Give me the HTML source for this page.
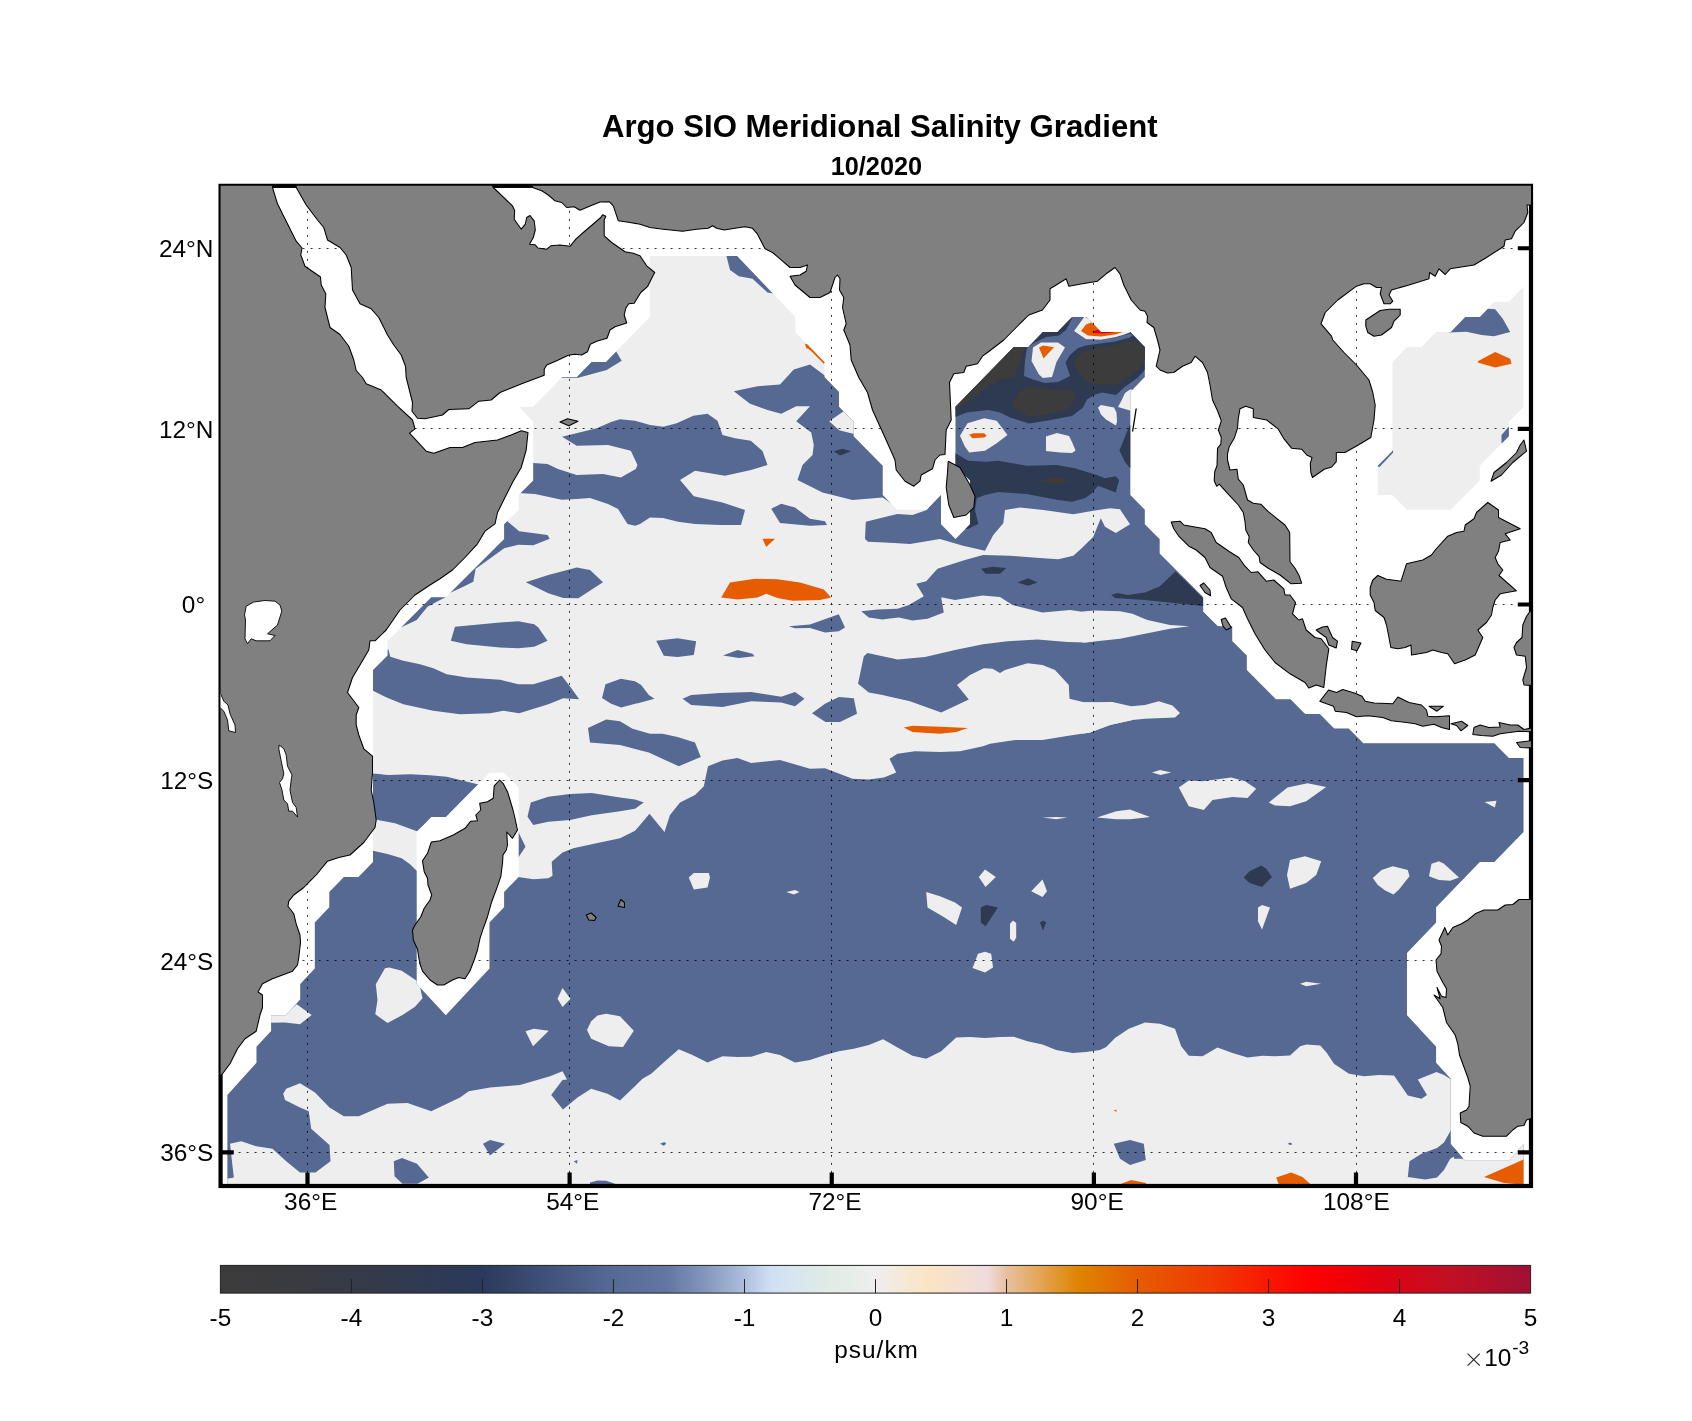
<!DOCTYPE html><html><head><meta charset="utf-8"><title>Argo SIO Meridional Salinity Gradient</title>
<style>html,body{margin:0;padding:0;background:#fff}body{width:1692px;height:1421px;overflow:hidden;position:relative;font-family:"Liberation Sans",sans-serif}svg{position:absolute;left:0;top:0;will-change:transform}text{font-family:"Liberation Sans",sans-serif;fill:#000}</style></head><body>
<svg width="1692" height="1421" viewBox="0 0 1692 1421">
<defs>
<clipPath id="ax"><rect x="220.57" y="185.85" width="1310.42" height="1000.13"/></clipPath>
<clipPath id="dat"><path clip-rule="evenodd" d="M649.7 256.0 L737.1 256.0 L795.3 317.0 L795.3 332.0 L824.5 362.1 L824.5 377.0 L839.0 391.9 L839.0 406.7 L853.6 421.5 L853.6 436.3 L882.7 465.7 L882.7 495.1 L897.3 509.7 L926.4 509.7 L941.0 495.1 L941.0 524.3 L955.5 538.9 L970.1 524.3 L970.1 480.4 L955.5 465.7 L955.5 406.7 L1013.8 347.1 L1028.3 347.1 L1042.9 332.0 L1057.5 332.0 L1072.0 317.0 L1086.6 317.0 L1101.2 332.0 L1130.3 332.0 L1144.8 347.1 L1144.8 377.0 L1130.3 391.9 L1130.3 495.1 L1144.8 509.7 L1144.8 524.3 L1159.4 538.9 L1159.4 553.5 L1203.1 597.2 L1203.1 611.8 L1217.7 626.3 L1232.2 626.3 L1232.2 640.9 L1246.8 655.5 L1246.8 670.1 L1275.9 699.3 L1290.5 699.3 L1305.0 713.9 L1319.6 713.9 L1334.2 728.6 L1348.7 728.6 L1363.3 743.3 L1494.3 743.3 L1508.9 758.0 L1523.5 758.0 L1523.5 832.0 L1494.3 861.9 L1479.8 861.9 L1436.1 907.2 L1436.1 922.4 L1407.0 953.0 L1407.0 1015.2 L1436.1 1046.8 L1436.1 1062.7 L1450.7 1078.8 L1450.7 1144.0 L1465.2 1160.7 L1508.9 1160.7 L1523.5 1144.0 L1523.5 1202.8 L227.4 1202.8 L227.4 1094.9 L256.5 1062.7 L256.5 1046.8 L271.1 1030.9 L271.1 1015.2 L285.7 1015.2 L300.2 999.5 L300.2 983.9 L314.8 968.5 L314.8 922.4 L329.3 907.2 L329.3 892.0 L343.9 877.0 L358.5 877.0 L373.0 861.9 L373.0 670.1 L387.6 655.5 L387.6 640.9 L431.3 597.2 L445.8 597.2 L504.1 538.9 L504.1 524.3 L518.7 509.7 L518.7 495.1 L533.2 480.4 L533.2 421.5 L518.7 406.7 L533.2 406.7 L562.3 377.0 L576.9 377.0 L591.5 362.1 L606.0 362.1 L649.7 317.0Z M416.7 983.9 L416.7 832.0 L431.3 817.1 L445.8 817.1 L489.5 772.7 L504.1 772.7 L518.7 787.5 L518.7 877.0 L504.1 892.0 L504.1 907.2 L489.5 922.4 L489.5 968.5 L445.8 1015.2Z M1523.5 286.6 L1523.5 406.7 L1508.9 421.5 L1508.9 436.3 L1479.8 465.7 L1479.8 480.4 L1450.7 509.7 L1407.0 509.7 L1392.4 495.1 L1377.8 495.1 L1377.8 465.7 L1392.4 451.0 L1392.4 362.1 L1407.0 347.1 L1421.5 347.1 L1436.1 332.0 L1450.7 332.0 L1465.2 317.0 L1479.8 317.0 L1494.3 301.8 L1508.9 301.8Z"/></clipPath>
<linearGradient id="cb" x1="0" x2="1" y1="0" y2="0"><stop offset="0.000" stop-color="#3c3c3c"/><stop offset="0.060" stop-color="#3a3b40"/><stop offset="0.170" stop-color="#2e3a54"/><stop offset="0.200" stop-color="#2a3a5c"/><stop offset="0.300" stop-color="#566a96"/><stop offset="0.340" stop-color="#6176a0"/><stop offset="0.370" stop-color="#8496bc"/><stop offset="0.400" stop-color="#adbfdc"/><stop offset="0.420" stop-color="#cfe0f5"/><stop offset="0.440" stop-color="#d8e6ee"/><stop offset="0.465" stop-color="#e0ece4"/><stop offset="0.500" stop-color="#eeeeee"/><stop offset="0.540" stop-color="#fbe4c3"/><stop offset="0.585" stop-color="#efdcdc"/><stop offset="0.600" stop-color="#e8c0a0"/><stop offset="0.655" stop-color="#de8500"/><stop offset="0.700" stop-color="#e65c00"/><stop offset="0.760" stop-color="#f03800"/><stop offset="0.830" stop-color="#ff0000"/><stop offset="0.880" stop-color="#e4000f"/><stop offset="0.940" stop-color="#c01024"/><stop offset="1.000" stop-color="#a11033"/></linearGradient>
</defs>
<g clip-path="url(#ax)">
<g clip-path="url(#dat)" shape-rendering="geometricPrecision">
<rect x="220.6" y="185.8" width="1310.4" height="1000.1" fill="#eeeeee"/>
<path d="M865.8 521.7 L897.5 514.0 L912.5 515.0 L926.7 510.0 L940.0 495.0 L940.0 300.0 L1350.0 300.0 L1350.0 720.0 L1093.0 720.0 L1093.3 536.7 L1100.8 518.3 L1105.0 526.7 L1115.8 533.0 L1130.0 524.2 L1120.0 509.2 L1110.0 508.3 L1093.3 510.8 L1073.3 514.2 L1043.3 510.0 L1020.0 507.5 L1005.0 510.0 L1003.3 523.3 L993.3 535.0 L985.0 550.8 L963.0 545.8 L940.0 539.0 L910.0 544.0 L885.0 542.5 L868.0 541.7 L865.0 539.0Z" fill="#556993"/>
<path d="M861.2 611.2 L877.5 609.5 L897.5 608.8 L908.8 605.0 L923.8 596.2 L916.2 583.8 L926.2 581.2 L937.5 568.8 L965.0 560.0 L983.0 555.0 L1010.0 555.8 L1043.3 558.3 L1058.3 559.2 L1073.3 555.8 L1081.7 548.3 L1093.3 536.7 L1220.0 537.0 L1220.0 626.2 L1189.5 626.2 L1170.0 625.0 L1147.5 620.0 L1132.5 613.8 L1120.0 611.2 L1095.0 610.5 L1087.5 612.5 L1070.0 610.0 L1042.5 612.5 L1012.5 605.0 L1000.0 597.0 L982.5 595.5 L955.0 600.0 L942.5 597.5 L941.2 597.5 L943.8 612.5 L927.5 618.8 L912.5 620.5 L898.8 617.5 L882.5 619.5 L868.8 617.5Z" fill="#556993"/>
<path d="M863.8 656.2 L867.5 653.0 L882.5 656.2 L897.5 659.5 L925.0 657.0 L955.0 650.0 L983.0 644.2 L1007.5 641.2 L1037.5 639.5 L1067.5 642.0 L1085.0 642.5 L1120.0 638.8 L1145.0 633.8 L1170.0 628.8 L1189.5 626.2 L1220.0 626.2 L1220.0 713.0 L1180.0 713.0 L1172.5 705.5 L1158.8 701.2 L1145.0 705.0 L1131.2 706.2 L1112.5 702.0 L1085.0 702.5 L1069.5 698.8 L1068.8 685.0 L1055.0 670.0 L1042.5 665.0 L1027.5 663.2 L1005.0 670.0 L1000.0 673.0 L992.5 668.8 L983.8 668.2 L970.0 675.0 L957.0 685.0 L968.8 699.5 L941.2 712.5 L910.0 701.2 L882.5 695.0 L868.8 692.5 L858.0 683.8Z" fill="#556993"/>
<path d="M200.0 850.8 L373.0 850.8 L373.0 850.8 L388.3 854.2 L401.7 858.3 L410.0 864.2 L416.7 870.8 L518.3 877.0 L533.3 879.2 L548.3 878.3 L552.5 875.8 L551.7 861.7 L562.5 852.5 L573.3 848.3 L591.7 844.2 L620.0 838.3 L635.0 830.8 L649.5 813.8 L664.5 832.0 L670.0 815.0 L680.0 802.5 L695.0 795.0 L703.8 786.2 L708.0 766.2 L722.5 760.5 L737.5 758.0 L751.2 763.0 L780.0 760.0 L810.0 768.8 L825.0 768.2 L852.5 778.8 L868.8 779.5 L883.8 777.5 L896.2 772.5 L889.5 758.8 L897.5 753.8 L915.0 751.2 L940.0 752.0 L960.0 751.2 L983.0 746.2 L990.0 743.8 L1015.0 740.0 L1042.5 740.0 L1070.0 735.5 L1090.0 732.5 L1110.0 725.0 L1132.5 720.0 L1145.0 718.8 L1175.0 717.5 L1180.0 713.0 L1220.0 713.0 L1600.0 713.0 L1600.0 1200.0 L200.0 1200.0Z" fill="#556993"/>
<path d="M1082.5 611.5 L1095.0 610.5 L1120.0 611.2 L1132.5 613.8 L1147.5 620.0 L1170.0 625.0 L1189.5 626.2 L1170.0 628.8 L1145.0 633.8 L1120.0 638.8 L1085.0 642.5 L1082.5 642.5Z" fill="#eeeeee"/>
<path d="M1082.5 702.2 L1112.5 702.0 L1131.2 706.2 L1145.0 705.0 L1158.8 701.2 L1172.5 705.5 L1180.0 713.0 L1175.0 717.5 L1145.0 718.8 L1132.5 720.0 L1110.0 725.0 L1090.0 732.5 L1082.5 733.8Z" fill="#eeeeee"/>
<path d="M230.0 1143.8 L241.2 1141.2 L256.2 1146.2 L272.5 1148.8 L286.2 1161.2 L300.0 1172.5 L315.5 1172.5 L330.5 1161.2 L329.5 1145.0 L311.2 1128.8 L308.8 1111.2 L300.0 1107.5 L285.0 1100.0 L283.2 1093.8 L286.2 1088.8 L300.0 1083.2 L315.0 1092.5 L329.5 1107.5 L343.8 1116.2 L358.8 1116.2 L387.5 1103.8 L407.5 1103.0 L431.2 1111.2 L460.0 1097.5 L468.8 1091.2 L490.0 1087.5 L520.0 1085.0 L550.0 1076.2 L562.5 1071.2 L567.0 1079.5 L562.5 1080.0 L551.2 1095.0 L563.0 1109.5 L577.5 1097.5 L591.2 1088.8 L607.5 1093.8 L620.0 1100.5 L642.5 1078.8 L651.2 1073.8 L665.0 1061.2 L678.8 1049.2 L692.5 1055.0 L707.5 1062.5 L722.5 1056.2 L737.5 1057.0 L751.2 1056.8 L766.2 1052.0 L780.0 1055.0 L795.0 1062.5 L810.0 1060.0 L825.0 1055.0 L838.8 1051.2 L853.8 1048.8 L868.8 1045.0 L883.0 1039.2 L897.5 1047.5 L912.5 1055.8 L926.2 1058.8 L941.2 1051.2 L956.2 1037.5 L970.0 1037.0 L970.0 1037.0 L985.0 1038.0 L1000.0 1037.0 L1013.8 1036.8 L1027.5 1041.2 L1042.5 1044.5 L1056.2 1050.0 L1072.5 1053.0 L1086.2 1052.0 L1100.0 1050.0 L1106.2 1047.0 L1115.0 1038.0 L1128.8 1028.8 L1145.0 1022.5 L1160.0 1023.8 L1175.0 1028.8 L1181.2 1046.2 L1188.8 1055.8 L1202.5 1056.2 L1217.5 1047.5 L1232.5 1053.0 L1247.5 1057.5 L1262.5 1055.8 L1275.0 1056.2 L1290.0 1055.5 L1300.2 1046.2 L1306.5 1044.5 L1320.2 1045.5 L1326.5 1052.5 L1334.0 1063.8 L1349.0 1073.8 L1364.0 1076.2 L1379.0 1075.0 L1394.0 1075.5 L1407.8 1095.5 L1421.5 1098.8 L1427.0 1095.0 L1417.8 1079.5 L1429.0 1075.0 L1436.5 1072.0 L1444.0 1075.0 L1454.0 1081.2 L1454.0 1158.8 L1506.5 1158.8 L1529.0 1135.0 L1529.0 1210.0 L225.0 1210.0 L225.0 1179.2 L233.8 1177.5Z" fill="#eeeeee"/>
<path d="M560.0 376.7 L575.0 375.8 L590.0 360.8 L605.0 360.8 L615.8 350.8 L621.7 360.8 L606.7 370.0 L578.3 377.8 L560.0 377.8Z" fill="#556993"/>
<path d="M562.0 436.7 L596.7 428.3 L611.7 421.7 L620.0 419.2 L635.0 420.8 L650.0 425.0 L663.3 426.7 L676.7 423.3 L693.3 415.8 L707.5 413.8 L717.5 420.8 L722.5 435.0 L735.0 438.3 L750.8 440.8 L762.5 451.0 L767.5 465.0 L751.0 470.0 L725.0 475.8 L695.0 470.8 L680.0 480.0 L693.8 496.2 L722.5 502.5 L745.0 510.0 L741.0 525.0 L720.0 525.0 L695.0 524.0 L678.0 521.7 L663.0 518.0 L650.0 517.5 L640.0 524.0 L635.0 525.8 L627.5 524.0 L618.0 509.0 L608.0 504.0 L590.0 498.0 L576.7 499.0 L561.7 499.7 L535.0 494.0 L518.0 493.0 L518.0 462.0 L547.5 464.0 L558.0 469.0 L576.7 475.0 L603.0 474.0 L620.8 477.5 L635.8 469.0 L637.5 465.0 L630.8 450.8 L608.0 445.0 L576.7 445.8Z" fill="#556993"/>
<path d="M733.8 391.2 L757.5 386.2 L780.0 384.5 L793.8 369.5 L810.0 364.5 L827.5 377.5 L842.5 392.5 L842.5 405.0 L856.2 420.0 L856.2 435.0 L885.0 463.8 L885.0 496.2 L893.8 505.0 L882.5 497.5 L852.5 500.0 L822.5 492.5 L797.5 480.0 L802.5 465.0 L812.5 455.0 L813.8 445.0 L811.2 432.5 L796.2 421.2 L810.0 406.2 L796.2 406.2 L781.2 413.8 L767.5 410.0 L750.0 403.8Z" fill="#556993"/>
<path d="M843.7 411.3 L829.2 421.2 L839.2 430.3 L855.0 434.2 L855.0 422.5Z" fill="#eeeeee"/>
<path d="M833.8 451.2 L842.5 448.8 L851.2 451.2 L840.0 455.5Z" fill="#2e3a52"/>
<path d="M726.2 255.0 L738.8 255.0 L775.0 293.8 L767.5 292.5 L752.5 278.8 L738.8 276.2 L730.0 270.0Z" fill="#556993"/>
<path d="M805.0 343.8 L808.0 344.2 L825.5 362.5 L823.8 363.8 L810.0 350.0 L806.2 348.0Z" fill="#e65c00"/>
<path d="M771.2 508.8 L781.2 503.8 L795.0 507.5 L810.0 518.8 L825.0 521.2 L827.0 525.0 L810.0 525.8 L780.0 523.0Z" fill="#556993"/>
<path d="M370.0 773.3 L388.3 775.0 L410.0 774.2 L430.0 775.3 L446.7 776.7 L463.3 780.8 L477.5 784.2 L480.0 784.2 L445.8 818.3 L431.3 818.3 L417.0 831.3 L395.0 823.3 L376.7 819.7 L370.0 818.3Z" fill="#556993"/>
<path d="M527.5 816.7 L530.8 802.5 L548.3 796.7 L570.0 794.0 L591.7 793.0 L620.0 797.5 L635.0 799.5 L643.8 802.5 L635.0 808.8 L620.0 811.3 L591.7 815.3 L570.0 820.0 L548.3 821.7 L533.3 825.0Z" fill="#556993"/>
<path d="M516.7 831.7 L518.3 831.7 L525.5 846.7 L518.3 857.5 L516.7 857.5Z" fill="#556993"/>
<path d="M502.5 520.0 L506.7 520.8 L519.2 531.3 L547.5 535.0 L549.7 538.7 L533.3 545.3 L518.3 544.7 L504.2 548.3 L475.8 568.7 L474.2 566.7 L502.5 538.3Z" fill="#556993"/>
<path d="M475.8 568.3 L473.3 581.7 L463.3 586.7 L449.2 593.3 L445.8 595.8 L474.2 566.7Z" fill="#556993"/>
<path d="M430.0 596.3 L446.7 596.7 L440.0 600.0 L427.5 606.7 L416.7 620.0 L400.8 627.5 L398.3 626.7Z" fill="#556993"/>
<path d="M525.8 582.2 L548.3 575.0 L576.7 567.5 L590.0 570.0 L603.0 582.2 L578.3 598.3 L563.3 598.0 L548.3 593.3Z" fill="#556993"/>
<path d="M450.8 640.8 L455.0 626.7 L500.0 622.5 L518.3 621.2 L534.2 624.2 L538.3 627.5 L547.5 640.8 L534.2 646.7 L518.3 648.3 L500.0 647.5 L466.7 644.2Z" fill="#556993"/>
<path d="M385.0 650.8 L388.3 649.2 L390.3 656.7 L403.3 660.8 L420.0 664.2 L433.3 668.3 L446.7 674.2 L466.7 677.5 L500.0 679.7 L518.3 684.2 L533.3 684.2 L561.7 675.8 L570.8 687.5 L579.2 699.2 L563.3 698.3 L548.3 704.2 L519.2 713.3 L503.3 710.8 L490.0 713.3 L460.0 714.2 L433.3 710.8 L403.3 704.2 L386.7 697.5 L373.0 690.8 L370.0 690.8 L370.0 670.0Z" fill="#556993"/>
<path d="M605.5 684.2 L620.8 678.8 L635.0 681.2 L641.2 685.0 L648.8 695.0 L654.5 698.8 L621.2 707.5 L611.2 703.8 L602.0 698.0Z" fill="#556993"/>
<path d="M588.0 728.0 L606.2 719.5 L620.0 721.2 L632.5 728.8 L650.0 733.8 L662.5 733.8 L677.5 737.0 L695.0 742.5 L700.8 757.0 L678.8 766.2 L665.0 760.0 L648.8 752.5 L620.0 745.0 L590.0 742.5Z" fill="#556993"/>
<path d="M656.2 640.8 L677.5 638.2 L696.2 641.2 L693.8 655.0 L677.5 657.0 L663.8 655.8Z" fill="#556993"/>
<path d="M723.0 655.5 L737.5 650.0 L752.5 653.8 L754.5 656.2 L738.8 658.0Z" fill="#556993"/>
<path d="M788.8 626.2 L810.0 624.5 L838.8 614.2 L845.0 627.5 L838.8 631.2 L825.0 632.5 L810.0 628.0 L795.0 628.2Z" fill="#556993"/>
<path d="M682.5 698.8 L691.2 695.0 L720.0 693.0 L751.2 692.0 L781.2 696.8 L795.0 692.0 L804.5 698.8 L795.0 706.2 L781.2 702.5 L751.2 701.2 L722.5 707.0 L691.2 705.0Z" fill="#556993"/>
<path d="M812.0 713.2 L825.0 703.8 L838.8 697.0 L853.8 698.2 L857.0 713.8 L840.0 722.0 L825.5 722.0Z" fill="#556993"/>
<path d="M762.5 538.8 L775.0 538.8 L766.2 547.0Z" fill="#e65c00"/>
<path d="M721.2 597.5 L730.0 582.5 L755.0 578.8 L777.5 579.2 L800.0 582.5 L823.8 589.5 L831.2 597.5 L820.0 600.0 L792.5 600.8 L777.5 598.0 L766.2 593.8 L757.5 597.5 L737.5 599.5Z" fill="#e65c00"/>
<path d="M903.8 727.5 L912.5 725.8 L940.0 726.8 L968.0 728.0 L956.2 732.0 L940.0 733.8 L912.5 732.0Z" fill="#e65c00"/>
<path d="M375.8 984.2 L385.0 968.3 L389.2 967.5 L401.7 970.8 L416.7 980.8 L420.0 986.7 L422.5 998.3 L415.0 1006.7 L402.5 1015.0 L387.5 1023.0 L375.3 1014.2 L377.5 1000.0Z" fill="#eeeeee"/>
<path d="M270.0 1014.2 L285.8 1014.2 L296.7 1004.2 L311.7 1015.0 L300.0 1024.2 L285.0 1022.5 L270.0 1022.8Z" fill="#eeeeee"/>
<path d="M557.5 998.8 L562.5 988.0 L570.5 998.8 L562.5 1007.0Z" fill="#eeeeee"/>
<path d="M525.5 1031.2 L533.8 1028.8 L548.8 1030.8 L533.0 1046.2Z" fill="#eeeeee"/>
<path d="M587.0 1030.0 L591.2 1021.2 L597.5 1015.5 L606.2 1013.8 L620.0 1016.2 L633.8 1030.8 L623.0 1047.0 L608.8 1046.2 L591.2 1038.8Z" fill="#eeeeee"/>
<path d="M688.8 877.5 L693.8 873.0 L708.8 873.0 L710.0 877.5 L707.5 887.5 L693.8 889.5Z" fill="#eeeeee"/>
<path d="M786.2 892.0 L795.0 890.0 L799.5 892.0 L793.8 894.5Z" fill="#eeeeee"/>
<path d="M926.2 892.0 L940.0 896.2 L955.0 902.5 L962.0 907.5 L956.2 925.0 L942.5 916.2 L927.5 907.5Z" fill="#eeeeee"/>
<path d="M978.8 877.0 L985.0 869.5 L995.8 877.0 L985.5 887.0Z" fill="#eeeeee"/>
<path d="M972.5 968.0 L978.0 953.8 L985.0 951.8 L991.2 953.8 L993.0 967.5 L985.0 972.5Z" fill="#eeeeee"/>
<path d="M1031.2 891.2 L1042.5 879.5 L1047.0 891.2 L1042.5 897.0Z" fill="#eeeeee"/>
<path d="M1010.0 923.8 L1013.0 920.5 L1016.2 923.0 L1016.2 937.5 L1013.8 941.8 L1010.0 938.8Z" fill="#eeeeee"/>
<path d="M1290.0 860.0 L1305.0 856.2 L1321.2 861.2 L1316.2 875.0 L1306.2 883.0 L1290.0 888.8 L1287.0 875.0Z" fill="#eeeeee"/>
<path d="M1258.0 907.5 L1262.0 905.0 L1270.0 907.5 L1262.0 929.5 L1258.0 921.2Z" fill="#eeeeee"/>
<path d="M1300.0 983.8 L1306.2 981.8 L1321.2 983.8 L1306.2 986.2Z" fill="#eeeeee"/>
<path d="M1152.0 772.5 L1160.0 770.0 L1171.2 772.5 L1160.5 775.0Z" fill="#eeeeee"/>
<path d="M1178.8 787.5 L1188.8 780.5 L1202.5 781.2 L1231.2 777.5 L1245.0 781.2 L1256.2 788.8 L1247.5 798.0 L1232.5 797.0 L1212.5 800.0 L1203.8 810.0 L1188.8 806.2Z" fill="#eeeeee"/>
<path d="M1268.8 802.5 L1287.5 787.5 L1307.5 783.2 L1326.2 787.0 L1306.2 801.2 L1290.0 806.2 L1275.0 805.5Z" fill="#eeeeee"/>
<path d="M1042.5 817.5 L1056.2 817.0 L1067.5 817.5 L1056.2 819.2Z" fill="#eeeeee"/>
<path d="M1097.0 817.5 L1116.2 811.2 L1130.0 809.5 L1150.0 817.0 L1130.0 819.2 L1116.2 819.2Z" fill="#eeeeee"/>
<path d="M1484.5 802.0 L1496.5 800.8 L1494.8 807.5Z" fill="#eeeeee"/>
<path d="M1372.8 878.0 L1381.5 870.0 L1392.8 866.2 L1407.8 870.0 L1409.5 876.2 L1399.0 889.5 L1393.5 894.5 L1385.2 890.5 L1377.8 885.0Z" fill="#eeeeee"/>
<path d="M1429.0 876.2 L1431.5 863.8 L1439.0 861.2 L1444.0 863.8 L1459.0 877.5 L1450.2 880.8 L1439.0 880.0Z" fill="#eeeeee"/>
<path d="M980.8 907.5 L986.2 905.0 L998.0 907.5 L985.5 926.2 L980.8 922.5Z" fill="#2e3a52"/>
<path d="M1040.0 922.5 L1043.0 920.5 L1046.2 922.5 L1043.0 930.5Z" fill="#2e3a52"/>
<path d="M1243.8 877.5 L1249.5 871.2 L1261.2 865.5 L1266.2 868.8 L1272.0 877.0 L1262.0 887.0 L1249.5 883.0Z" fill="#2e3a52"/>
<path d="M981.2 568.8 L992.5 566.8 L1006.2 568.0 L1000.0 573.8 L985.5 573.8Z" fill="#2e3a52"/>
<path d="M1017.5 582.5 L1028.0 578.2 L1037.5 582.5 L1028.0 585.8Z" fill="#2e3a52"/>
<path d="M1111.2 595.0 L1117.5 593.0 L1127.5 595.0 L1145.0 592.5 L1160.0 586.2 L1175.5 571.2 L1205.0 600.0 L1205.0 606.2 L1145.0 600.0 L1115.0 598.0Z" fill="#2e3a52"/>
<path d="M393.8 1161.2 L402.0 1158.0 L417.0 1163.8 L428.8 1177.5 L417.5 1183.8 L402.5 1183.8 L394.5 1176.2Z" fill="#556993"/>
<path d="M483.0 1143.8 L490.0 1140.0 L505.0 1143.8 L490.0 1155.5Z" fill="#556993"/>
<path d="M590.0 1182.5 L597.5 1180.5 L606.2 1180.8 L615.0 1183.8 L615.0 1187.5 L590.0 1187.5Z" fill="#556993"/>
<path d="M660.0 1143.8 L664.5 1142.0 L666.2 1143.8 L663.8 1145.8Z" fill="#556993"/>
<path d="M573.8 1161.2 L577.5 1160.0 L577.0 1163.8Z" fill="#556993"/>
<path d="M1113.8 1143.8 L1130.0 1140.0 L1143.8 1143.8 L1145.8 1160.0 L1130.0 1165.0 L1120.0 1158.8Z" fill="#556993"/>
<path d="M1287.5 1143.8 L1290.5 1142.5 L1292.5 1144.2 L1290.0 1145.0Z" fill="#556993"/>
<path d="M1407.8 1177.0 L1409.5 1161.2 L1421.5 1153.8 L1437.0 1148.0 L1444.0 1142.5 L1451.0 1130.0 L1455.2 1130.0 L1455.2 1145.0 L1459.0 1153.8 L1450.2 1158.8 L1444.0 1170.0 L1437.0 1177.5 L1425.2 1179.5Z" fill="#556993"/>
<path d="M1121.2 1183.8 L1131.2 1180.0 L1146.2 1183.0 L1146.2 1187.5 L1121.2 1187.5Z" fill="#e65c00"/>
<path d="M1276.2 1177.5 L1291.2 1172.5 L1302.5 1177.0 L1310.0 1183.8 L1310.0 1187.5 L1280.0 1187.5Z" fill="#e65c00"/>
<path d="M1484.0 1177.0 L1523.5 1159.5 L1526.5 1159.5 L1526.5 1185.0 L1504.0 1183.0Z" fill="#e65c00"/>
<path d="M1113.8 1110.8 L1116.2 1109.5 L1117.0 1111.8Z" fill="#e65c00"/>
<path d="M1449.0 332.5 L1465.2 316.2 L1480.2 316.2 L1487.8 308.8 L1495.2 309.2 L1502.8 318.8 L1510.2 332.0 L1494.0 336.2 L1481.5 335.0 L1466.5 331.8Z" fill="#556993"/>
<path d="M1477.8 361.2 L1495.2 352.0 L1510.2 358.8 L1511.5 363.8 L1495.2 367.5 L1477.8 362.5Z" fill="#e65c00"/>
<path d="M1501.5 435.0 L1510.2 425.0 L1510.2 436.2 L1501.5 443.8Z" fill="#556993"/>
<path d="M1376.5 466.2 L1392.8 450.0 L1393.2 452.5 L1379.5 467.0Z" fill="#556993"/>
<path d="M950.0 418.0 L955.8 416.7 L966.7 412.5 L988.3 410.0 L1000.0 412.5 L1010.0 417.5 L1029.0 423.5 L1048.0 420.5 L1072.0 416.0 L1083.0 407.5 L1087.0 399.5 L1095.0 394.5 L1102.0 392.5 L1116.0 395.0 L1124.0 387.5 L1138.0 377.5 L1145.0 369.5 L1150.0 369.5 L1150.0 345.0 L1132.0 330.0 L1073.0 317.0 L1060.0 325.0 L1045.0 325.0 L1030.0 340.0 L1010.0 340.0 L950.0 400.0Z" fill="#2e3a52"/>
<path d="M950.0 452.0 L955.3 453.3 L968.3 460.8 L986.7 461.7 L998.3 460.8 L1026.7 465.8 L1056.7 465.0 L1075.0 468.3 L1096.7 475.0 L1105.0 478.3 L1115.8 476.3 L1119.0 480.0 L1115.8 492.5 L1098.0 485.8 L1091.7 493.3 L1085.0 498.3 L1071.7 501.7 L1056.7 499.7 L1026.7 494.0 L998.3 492.0 L985.0 495.0 L976.7 498.3 L975.0 510.0 L978.3 524.0 L968.0 529.0 L960.0 529.0 L950.0 500.0Z" fill="#2e3a52"/>
<path d="M1130.0 425.0 L1126.0 434.0 L1119.5 450.5 L1125.0 462.0 L1130.0 468.0 L1132.0 468.0 L1132.0 425.0Z" fill="#2e3a52"/>
<path d="M1073.0 316.5 L1084.5 316.5 L1074.0 331.0 L1086.0 339.5 L1101.0 340.0 L1115.0 337.5 L1130.0 333.5 L1133.0 335.0 L1130.0 337.5 L1115.0 341.5 L1100.0 343.5 L1086.0 345.5 L1078.0 348.0 L1070.0 355.0 L1065.5 362.5 L1070.0 376.0 L1058.0 382.0 L1045.0 383.0 L1033.0 379.5 L1024.0 376.0 L1025.0 360.0 L1027.0 348.0 L1034.0 343.0 L1046.0 337.0 L1059.0 335.5 L1066.0 330.0Z" fill="#556993"/>
<path d="M1084.5 316.5 L1091.5 320.5 L1101.0 331.5 L1130.0 331.5 L1130.0 332.5 L1123.0 335.0 L1115.0 337.2 L1101.0 339.8 L1086.0 339.2 L1074.0 331.0Z" fill="#eeeeee"/>
<path d="M1081.0 331.0 L1086.0 324.5 L1091.0 322.5 L1094.5 324.5 L1101.0 331.8 L1123.0 332.0 L1115.0 334.5 L1101.0 336.5 L1088.0 335.5Z" fill="#e65c00"/>
<path d="M1092.0 332.0 L1098.0 329.5 L1101.0 331.8 L1115.0 332.3 L1105.0 333.5 L1095.0 333.2Z" fill="#e0001b"/>
<path d="M1031.5 361.0 L1033.0 347.5 L1041.0 342.5 L1058.0 342.5 L1065.0 347.5 L1056.5 362.0 L1052.0 377.0 L1043.0 378.0 L1039.0 374.5Z" fill="#eeeeee"/>
<path d="M1039.0 347.5 L1043.0 345.5 L1054.0 347.2 L1043.5 358.5Z" fill="#e65c00"/>
<path d="M953.3 406.7 L1013.3 345.0 L1024.5 346.0 L1024.5 347.5 L1021.5 360.0 L1014.0 377.0 L1000.0 380.0 L986.7 386.7 L973.3 398.3 L955.8 409.2 L953.3 409.2Z" fill="#3c3c3c"/>
<path d="M1073.0 362.0 L1080.0 354.5 L1087.0 350.0 L1110.0 346.0 L1129.0 341.0 L1138.0 342.5 L1145.0 347.5 L1147.0 347.5 L1147.0 360.0 L1145.0 360.0 L1138.0 370.0 L1130.0 375.5 L1116.0 384.5 L1100.0 385.0 L1087.0 382.5 L1080.0 373.5Z" fill="#3c3c3c"/>
<path d="M1012.0 406.0 L1018.0 392.5 L1028.5 386.5 L1048.0 389.0 L1074.0 390.5 L1075.0 392.5 L1073.5 402.5 L1068.0 409.5 L1048.0 414.5 L1029.0 416.5Z" fill="#3c3c3c"/>
<path d="M1038.3 480.3 L1056.7 477.5 L1070.0 480.3 L1056.7 485.3Z" fill="#3c3c3c"/>
<path d="M1118.0 407.0 L1121.5 400.5 L1125.0 393.0 L1130.0 389.5 L1132.0 389.5 L1132.0 410.5 L1130.0 410.5Z" fill="#eeeeee"/>
<path d="M1098.0 407.5 L1101.0 405.0 L1114.0 407.5 L1116.5 412.5 L1117.0 421.5 L1116.0 425.5 L1106.0 419.5 L1101.0 414.5Z" fill="#eeeeee"/>
<path d="M1046.0 436.5 L1057.0 433.0 L1069.0 436.0 L1072.0 442.0 L1075.5 450.5 L1072.0 453.0 L1060.0 452.5 L1046.0 451.0Z" fill="#eeeeee"/>
<path d="M960.0 435.8 L967.5 423.3 L984.2 418.3 L996.7 420.8 L1007.5 435.0 L996.7 443.3 L985.0 450.8 L969.2 452.5 L965.0 446.7Z" fill="#eeeeee"/>
<path d="M969.2 434.7 L973.3 433.3 L984.2 433.3 L986.7 435.8 L984.2 437.5 L972.5 438.3Z" fill="#e65c00"/>
</g>
<path d="M307.50 186.85 V1185.98 M569.50 186.85 V1185.98 M831.50 186.85 V1185.98 M1093.50 186.85 V1185.98 M1356.50 186.85 V1185.98 M222.57 248.50 H1531.00 M222.57 428.50 H1531.00 M222.57 604.50 H1531.00 M222.57 780.50 H1531.00 M222.57 960.50 H1531.00 M222.57 1152.50 H1531.00" stroke="#000" stroke-width="1" stroke-dasharray="2 6" fill="none" opacity="0.8"/>
</g>
<rect x="220.57" y="185.85" width="1310.42" height="1000.13" fill="none" stroke="#000" stroke-width="4.2"/>
<path d="M307.50 1185.98 v-13.4 M569.62 1185.98 v-13.4 M831.75 1185.98 v-13.4 M1093.88 1185.98 v-13.4 M1356.00 1185.98 v-13.4 M220.57 248.27 h13.2 M1531.00 248.27 h-13.2 M220.57 428.93 h13.2 M1531.00 428.93 h-13.2 M220.57 604.50 h13.2 M1531.00 604.50 h-13.2 M220.57 780.07 h13.2 M1531.00 780.07 h-13.2 M220.57 960.73 h13.2 M1531.00 960.73 h-13.2 M220.57 1152.33 h13.2 M1531.00 1152.33 h-13.2" stroke="#000" stroke-width="4.2" fill="none"/>
<g clip-path="url(#ax)">
<path d="M272.5 187.5 L277.5 203.8 L286.2 221.2 L296.2 241.2 L302.0 248.0 L300.8 255.0 L305.0 266.2 L320.5 277.0 L321.2 285.0 L325.8 293.8 L325.0 307.5 L330.0 327.5 L340.0 334.5 L348.8 346.2 L353.8 360.0 L356.2 370.5 L362.5 377.5 L366.2 383.8 L381.2 390.0 L397.5 406.2 L412.5 420.0 L415.0 428.8 L409.5 433.2 L426.2 451.2 L433.8 453.2 L450.0 447.5 L462.5 447.5 L475.0 442.5 L497.5 440.0 L511.2 435.0 L521.2 430.8 L528.0 432.5 L526.2 450.0 L521.2 467.5 L512.5 482.5 L506.2 495.0 L497.5 512.5 L495.0 523.8 L485.0 531.2 L477.5 543.8 L465.0 557.5 L452.5 570.0 L440.0 578.8 L430.0 585.0 L415.0 595.0 L400.0 610.0 L386.2 630.0 L375.0 640.8 L370.0 640.8 L368.8 650.0 L360.0 665.0 L352.5 677.5 L347.5 692.5 L358.8 707.5 L356.2 715.0 L356.2 725.0 L358.8 735.0 L363.8 748.8 L372.5 756.2 L372.5 772.5 L371.2 790.0 L373.8 802.5 L376.2 820.0 L375.0 827.5 L363.8 842.5 L350.0 855.0 L338.8 857.5 L327.5 861.2 L316.2 875.0 L310.0 881.2 L303.8 887.5 L293.8 895.0 L288.8 901.2 L288.0 906.2 L293.8 913.8 L296.2 923.8 L300.0 935.0 L300.5 942.5 L298.8 957.5 L297.5 965.0 L292.5 971.2 L282.5 975.0 L272.5 978.8 L262.5 983.8 L258.0 992.0 L262.5 995.0 L262.5 1007.5 L260.0 1015.0 L256.2 1031.2 L245.0 1038.8 L237.5 1048.8 L230.0 1063.8 L222.5 1073.8 L217.5 1077.5 L205.0 1080.0 L205.0 170.0 L272.0 170.0Z" fill="#808080" stroke="#000" stroke-width="1.05" stroke-linejoin="round"/>
<path d="M296.2 187.5 L306.2 205.0 L317.5 220.0 L323.8 227.5 L327.5 240.0 L340.0 247.5 L346.2 255.0 L351.2 267.5 L352.5 290.0 L360.0 303.8 L371.2 308.8 L378.8 317.5 L387.5 335.0 L393.8 345.0 L401.2 355.0 L405.5 366.2 L406.2 377.5 L412.5 402.5 L412.0 411.2 L417.5 418.2 L425.0 418.8 L442.5 415.0 L448.8 409.5 L468.8 408.8 L478.8 401.2 L491.2 400.0 L500.0 392.5 L521.7 383.7 L544.2 375.3 L544.2 369.2 L546.7 365.0 L556.7 360.8 L568.3 355.3 L575.0 354.2 L581.7 355.0 L587.5 351.7 L590.3 344.2 L596.7 341.3 L607.0 338.3 L610.0 330.0 L615.0 326.7 L626.7 323.0 L624.2 315.0 L625.8 308.3 L628.7 303.7 L634.2 303.3 L640.8 292.5 L647.5 286.7 L651.7 278.3 L654.7 272.5 L646.7 265.8 L640.0 255.8 L633.3 253.3 L625.0 251.7 L620.0 248.3 L611.7 242.5 L604.2 235.8 L604.2 220.0 L605.8 216.3 L602.5 214.7 L600.8 217.5 L595.0 222.5 L583.3 232.5 L575.8 239.2 L570.0 246.3 L560.0 245.0 L550.8 245.8 L546.7 249.2 L538.0 248.0 L535.0 244.7 L529.5 244.2 L533.3 237.5 L535.3 230.0 L534.2 220.8 L530.0 215.5 L526.7 217.5 L525.3 224.2 L521.3 229.2 L514.2 219.2 L514.7 210.8 L512.5 205.8 L493.3 187.5 L486.7 175.0 L296.0 170.0Z" fill="#808080" stroke="#000" stroke-width="1.05" stroke-linejoin="round"/>
<path d="M532.5 175.0 L532.5 187.5 L541.7 190.8 L548.3 195.0 L555.0 200.8 L561.7 202.5 L566.7 207.5 L574.2 206.7 L580.0 210.3 L588.3 206.7 L600.0 202.0 L609.2 201.7 L613.3 205.8 L615.8 213.3 L618.3 220.8 L630.0 222.5 L640.0 224.2 L650.0 227.5 L663.3 229.2 L682.5 231.3 L696.7 229.2 L708.3 228.3 L712.5 225.8 L716.7 228.3 L724.2 230.0 L735.0 228.3 L745.0 226.7 L752.5 228.3 L757.5 234.2 L765.0 248.8 L772.5 252.5 L780.0 258.8 L790.0 267.5 L800.0 267.5 L807.5 265.0 L806.2 271.2 L800.0 275.0 L790.0 276.2 L795.0 285.0 L810.0 297.5 L820.0 297.5 L830.0 292.5 L835.0 277.5 L837.5 275.0 L840.0 278.8 L839.5 290.0 L843.8 297.5 L842.5 307.5 L846.2 323.8 L843.8 330.0 L850.0 345.0 L851.2 360.0 L858.8 377.5 L867.5 392.5 L872.5 410.0 L885.0 437.5 L895.0 460.0 L896.2 470.0 L905.0 481.2 L913.8 486.2 L920.0 481.2 L921.2 475.0 L932.5 468.8 L935.0 460.0 L940.0 455.0 L945.0 454.5 L946.2 430.0 L951.2 420.0 L949.5 382.5 L953.8 373.8 L963.8 372.5 L966.2 366.2 L977.5 363.8 L982.5 356.2 L987.5 352.5 L1003.8 340.0 L1011.2 332.5 L1016.2 327.5 L1022.5 321.2 L1028.8 315.0 L1042.5 310.0 L1050.0 300.0 L1050.0 288.8 L1056.2 285.0 L1066.2 278.8 L1068.8 286.2 L1082.5 283.8 L1097.5 281.2 L1106.2 273.8 L1115.0 267.5 L1120.0 273.8 L1123.8 285.0 L1131.2 300.0 L1140.0 310.0 L1145.0 311.2 L1147.5 316.2 L1147.0 322.5 L1153.8 327.5 L1157.5 340.0 L1160.0 350.0 L1156.2 366.2 L1160.0 370.0 L1167.5 373.0 L1173.8 372.5 L1182.5 366.2 L1191.2 362.5 L1195.0 356.2 L1202.5 362.5 L1207.5 372.5 L1210.0 385.0 L1212.5 400.0 L1217.5 410.8 L1221.3 420.8 L1218.3 430.0 L1221.3 437.5 L1220.8 444.2 L1217.5 448.3 L1217.0 465.8 L1214.7 471.7 L1214.2 480.8 L1216.7 486.3 L1219.2 484.2 L1228.3 494.2 L1238.3 505.0 L1243.3 512.5 L1245.0 521.7 L1245.8 530.0 L1249.2 536.7 L1248.3 542.5 L1253.3 550.0 L1259.2 556.7 L1260.0 562.5 L1268.3 568.3 L1280.0 575.0 L1290.8 583.7 L1301.7 583.3 L1299.2 575.8 L1295.0 568.3 L1290.0 561.7 L1289.7 532.5 L1285.0 525.0 L1276.7 518.3 L1268.3 511.7 L1260.8 504.2 L1253.3 503.3 L1247.5 500.0 L1243.3 485.0 L1238.3 479.2 L1237.0 469.2 L1230.0 470.0 L1227.5 460.0 L1227.5 454.2 L1229.2 446.7 L1234.2 438.3 L1237.5 428.3 L1238.3 418.3 L1240.0 408.7 L1245.8 406.3 L1253.3 408.7 L1253.3 417.5 L1260.0 418.7 L1266.7 420.0 L1278.3 429.2 L1284.2 439.2 L1291.7 448.3 L1301.7 449.2 L1306.7 455.0 L1312.0 457.5 L1310.3 463.3 L1310.8 472.5 L1312.5 477.5 L1324.2 469.2 L1331.7 467.0 L1336.3 461.7 L1336.3 452.5 L1345.0 452.5 L1358.3 445.0 L1370.8 437.5 L1374.0 420.0 L1375.2 405.0 L1372.8 392.5 L1369.0 380.0 L1356.5 365.0 L1344.0 352.5 L1332.8 340.0 L1331.5 336.2 L1321.0 323.8 L1325.2 312.5 L1332.8 305.0 L1337.8 300.0 L1356.5 286.2 L1364.0 283.8 L1370.2 283.8 L1376.5 287.5 L1381.5 287.5 L1380.2 293.8 L1384.0 303.8 L1390.2 303.8 L1392.8 301.2 L1389.0 295.0 L1391.5 290.0 L1409.0 285.0 L1429.0 278.8 L1429.5 272.5 L1435.2 276.2 L1439.0 268.8 L1445.2 274.5 L1450.2 268.8 L1474.0 265.0 L1486.5 257.5 L1504.0 246.2 L1505.2 240.0 L1511.5 238.8 L1515.2 231.2 L1524.0 222.5 L1527.8 212.5 L1527.0 205.0 L1530.2 205.0 L1545.0 205.0 L1545.0 170.0 L532.0 170.0Z" fill="#808080" stroke="#000" stroke-width="1.05" stroke-linejoin="round"/>
<path d="M948.2 461.2 L960.0 467.5 L970.0 485.0 L975.0 496.2 L973.8 507.5 L966.2 515.0 L953.8 517.5 L948.8 505.0 L946.2 487.5 L947.5 472.5Z" fill="#808080" stroke="#000" stroke-width="1.05" stroke-linejoin="round"/>
<path d="M560.0 422.0 L567.5 418.8 L578.0 421.2 L568.8 425.8Z" fill="#808080" stroke="#000" stroke-width="1.05" stroke-linejoin="round"/>
<path d="M1365.8 320.0 L1380.2 310.5 L1389.0 309.2 L1400.2 309.2 L1400.2 315.0 L1394.0 321.2 L1391.5 327.5 L1381.5 335.0 L1374.0 336.2 L1367.8 332.5 L1365.8 326.2Z" fill="#808080" stroke="#000" stroke-width="1.05" stroke-linejoin="round"/>
<path d="M1524.0 440.0 L1526.5 451.2 L1512.8 462.5 L1501.5 475.0 L1491.0 481.2 L1494.0 472.5 L1506.5 462.5 L1516.5 452.5 L1520.2 445.0Z" fill="#808080" stroke="#000" stroke-width="1.05" stroke-linejoin="round"/>
<path d="M1474.0 518.8 L1476.5 512.5 L1487.8 502.5 L1498.5 510.0 L1498.5 517.5 L1520.2 528.8 L1520.2 528.8 L1505.2 533.8 L1510.2 540.0 L1500.2 542.5 L1498.5 551.2 L1495.2 557.5 L1497.8 563.8 L1502.8 570.0 L1499.0 575.5 L1516.5 590.8 L1500.2 593.8 L1495.2 600.0 L1492.8 607.5 L1491.5 615.0 L1486.5 622.5 L1477.8 630.0 L1482.8 637.5 L1479.0 646.2 L1475.2 655.0 L1465.2 660.0 L1454.5 663.8 L1447.8 653.8 L1441.5 652.5 L1432.8 650.0 L1426.5 652.5 L1411.5 655.0 L1411.0 645.0 L1405.2 647.5 L1397.8 648.8 L1390.8 647.5 L1389.0 637.5 L1386.5 625.0 L1384.0 617.5 L1375.2 610.5 L1374.0 602.5 L1370.2 595.0 L1370.2 587.5 L1372.8 580.0 L1377.8 575.5 L1386.5 579.2 L1401.0 581.2 L1406.5 563.8 L1422.8 560.0 L1431.5 555.0 L1435.2 550.0 L1447.8 536.2 L1456.5 532.5 L1464.0 531.2 L1465.2 525.0Z" fill="#808080" stroke="#000" stroke-width="1.05" stroke-linejoin="round"/>
<path d="M1171.2 522.0 L1180.0 521.2 L1183.8 525.0 L1195.0 527.0 L1205.0 528.8 L1211.2 532.5 L1216.2 542.5 L1228.8 551.2 L1238.8 557.5 L1245.0 566.2 L1251.2 572.5 L1258.0 571.8 L1266.2 581.2 L1273.8 580.0 L1283.8 588.8 L1285.0 595.0 L1290.0 595.0 L1295.5 602.5 L1292.5 613.8 L1298.8 620.0 L1302.5 618.8 L1306.2 630.0 L1315.0 637.5 L1321.2 638.8 L1328.8 648.8 L1326.2 666.2 L1323.8 687.5 L1316.2 685.0 L1308.8 688.0 L1305.0 682.5 L1290.0 673.8 L1275.0 662.5 L1265.0 650.0 L1255.0 633.8 L1247.5 618.8 L1242.5 607.5 L1231.2 598.8 L1226.2 587.5 L1222.5 576.2 L1210.0 567.5 L1205.0 557.5 L1196.2 550.0 L1188.8 546.2 L1178.8 536.2 L1173.8 528.8Z" fill="#808080" stroke="#000" stroke-width="1.05" stroke-linejoin="round"/>
<path d="M1200.0 585.5 L1203.8 583.0 L1210.0 590.0 L1210.5 595.8 L1205.0 592.5Z" fill="#808080" stroke="#000" stroke-width="1.05" stroke-linejoin="round"/>
<path d="M1221.2 619.5 L1225.5 618.0 L1231.2 627.5 L1226.2 630.0 L1223.0 626.2Z" fill="#808080" stroke="#000" stroke-width="1.05" stroke-linejoin="round"/>
<path d="M1316.2 630.0 L1322.5 627.0 L1327.5 626.2 L1332.5 637.5 L1337.5 641.2 L1336.2 648.0 L1328.8 645.0 L1326.2 637.5 L1320.0 633.0Z" fill="#808080" stroke="#000" stroke-width="1.05" stroke-linejoin="round"/>
<path d="M1352.2 641.2 L1361.0 643.0 L1357.0 650.8 L1351.5 649.2Z" fill="#808080" stroke="#000" stroke-width="1.05" stroke-linejoin="round"/>
<path d="M1319.8 701.2 L1328.5 690.0 L1336.5 692.5 L1342.8 689.5 L1355.2 693.2 L1362.0 696.2 L1365.2 701.2 L1374.0 703.0 L1392.8 703.8 L1397.8 697.0 L1409.0 702.5 L1421.5 705.0 L1426.5 710.0 L1427.8 716.2 L1435.2 716.8 L1449.5 715.8 L1449.5 729.5 L1441.5 727.5 L1434.0 724.2 L1422.8 726.2 L1415.2 723.8 L1406.5 722.5 L1391.5 720.8 L1382.8 717.5 L1367.8 715.8 L1356.5 716.8 L1346.5 712.5 L1335.2 711.2 L1333.5 706.2 L1326.5 703.8Z" fill="#808080" stroke="#000" stroke-width="1.05" stroke-linejoin="round"/>
<path d="M1429.0 706.2 L1443.5 706.2 L1437.0 711.2Z" fill="#808080" stroke="#000" stroke-width="1.05" stroke-linejoin="round"/>
<path d="M1451.0 723.8 L1461.5 721.2 L1467.8 725.5 L1461.0 730.8 L1456.5 725.5Z" fill="#808080" stroke="#000" stroke-width="1.05" stroke-linejoin="round"/>
<path d="M1474.0 727.5 L1480.2 725.0 L1489.0 727.5 L1500.2 727.0 L1499.0 722.5 L1510.2 725.0 L1517.8 725.0 L1524.0 729.5 L1534.0 727.5 L1534.0 732.0 L1519.0 731.2 L1500.2 733.8 L1492.8 736.2 L1481.5 735.5 L1472.8 734.5Z" fill="#808080" stroke="#000" stroke-width="1.05" stroke-linejoin="round"/>
<path d="M1516.5 742.5 L1534.0 740.5 L1534.0 748.0 L1520.2 747.5Z" fill="#808080" stroke="#000" stroke-width="1.05" stroke-linejoin="round"/>
<path d="M1534.0 611.2 L1530.2 611.2 L1526.5 616.2 L1522.8 625.0 L1522.0 637.5 L1516.5 642.5 L1514.0 647.5 L1516.5 655.0 L1525.2 656.2 L1526.5 667.5 L1522.8 680.0 L1524.0 685.0 L1534.0 685.5Z" fill="#808080" stroke="#000" stroke-width="1.05" stroke-linejoin="round"/>
<path d="M499.7 780.0 L503.3 783.7 L507.5 791.7 L510.0 800.0 L513.0 810.0 L515.0 818.3 L517.5 830.0 L512.5 838.3 L506.7 832.0 L507.5 845.0 L506.3 850.0 L503.0 855.0 L502.5 863.3 L500.8 876.7 L496.7 888.3 L491.7 901.7 L487.5 916.7 L483.3 928.3 L480.0 938.3 L477.5 950.0 L474.2 960.0 L470.0 970.8 L470.5 970.0 L465.0 978.8 L458.8 977.5 L452.5 980.0 L443.8 985.0 L437.5 985.0 L430.0 980.0 L422.5 971.2 L419.5 962.5 L420.8 966.7 L419.2 960.0 L417.5 949.2 L413.3 940.0 L412.5 930.0 L415.0 925.0 L420.8 916.7 L424.2 908.3 L430.0 900.0 L431.7 895.0 L428.0 885.0 L427.5 878.3 L424.2 871.7 L422.5 860.8 L427.5 853.3 L431.3 842.0 L440.0 840.8 L453.3 835.0 L465.0 828.3 L470.8 821.2 L477.5 820.8 L475.8 815.0 L480.8 810.0 L479.7 803.3 L487.5 801.7 L493.3 798.3 L494.2 785.8Z" fill="#808080" stroke="#000" stroke-width="1.05" stroke-linejoin="round"/>
<path d="M586.2 915.0 L591.2 913.0 L596.2 917.5 L594.5 920.5 L588.8 920.0Z" fill="#808080" stroke="#000" stroke-width="1.05" stroke-linejoin="round"/>
<path d="M618.0 906.2 L620.8 899.5 L624.5 902.5 L624.5 907.5Z" fill="#808080" stroke="#000" stroke-width="1.05" stroke-linejoin="round"/>
<path d="M1534.0 899.5 L1519.0 899.5 L1512.8 904.5 L1505.2 905.0 L1497.8 910.0 L1484.0 910.0 L1475.2 913.8 L1467.8 920.0 L1461.5 923.8 L1452.8 927.5 L1447.8 935.0 L1444.8 927.5 L1439.0 940.0 L1441.5 946.2 L1441.0 953.8 L1436.0 960.0 L1437.0 971.2 L1442.8 982.5 L1446.5 988.8 L1446.0 997.5 L1441.5 996.2 L1437.0 987.5 L1440.2 998.8 L1434.0 995.0 L1442.8 1007.5 L1446.5 1022.5 L1455.2 1035.0 L1457.8 1043.8 L1459.5 1055.0 L1467.8 1077.5 L1470.2 1086.2 L1469.0 1106.2 L1466.5 1110.0 L1460.2 1113.0 L1460.8 1122.5 L1467.8 1126.2 L1474.0 1133.0 L1482.8 1136.2 L1506.5 1136.2 L1512.8 1130.0 L1517.8 1126.2 L1524.0 1125.5 L1526.5 1120.0 L1534.0 1117.5Z" fill="#808080" stroke="#000" stroke-width="1.05" stroke-linejoin="round"/>
<path d="M246.2 606.2 L253.8 602.0 L265.0 600.5 L275.0 601.2 L280.0 605.0 L281.8 611.2 L277.5 625.0 L267.5 633.8 L275.0 635.5 L270.0 640.8 L256.2 640.8 L251.2 638.8 L247.5 643.8 L245.0 638.8 L245.5 620.0 L244.5 615.0Z" fill="#fff" stroke="#000" stroke-width="0.9" stroke-linejoin="round"/>
<path d="M220.0 692.5 L223.8 701.2 L228.0 705.0 L230.0 713.8 L235.0 725.0 L235.5 732.5 L228.8 730.8 L227.5 720.0 L223.8 711.2 L220.0 707.5 L215.0 695.0Z" fill="#fff" stroke="#000" stroke-width="0.9" stroke-linejoin="round"/>
<path d="M279.2 745.0 L283.8 748.8 L286.2 755.0 L287.5 766.2 L292.0 775.0 L291.2 780.0 L290.0 790.0 L292.5 802.5 L296.2 807.5 L297.5 817.0 L292.5 811.2 L288.8 811.2 L287.5 803.8 L283.8 800.0 L282.0 790.0 L279.5 782.5 L282.5 778.8 L283.8 773.8 L280.0 755.0 L278.8 748.8Z" fill="#fff" stroke="#000" stroke-width="0.9" stroke-linejoin="round"/>
<path d="M1136.2 408.5 L1132.6 431.5" stroke="#000" stroke-width="1.3" fill="none"/>
</g>
<text x="879.8" y="137.3" font-size="31.17" font-weight="bold" text-anchor="middle">Argo SIO Meridional Salinity Gradient</text>
<text x="876.4" y="175.4" font-size="25.3" font-weight="bold" text-anchor="middle">10/2020</text>
<text x="213.4" y="257.2" font-size="24.4" text-anchor="end">24°N</text>
<text x="213.4" y="437.8" font-size="24.4" text-anchor="end">12°N</text>
<text x="193.5" y="613.4" font-size="24.4" text-anchor="middle">0°</text>
<text x="213.4" y="789.0" font-size="24.4" text-anchor="end">12°S</text>
<text x="213.4" y="969.6" font-size="24.4" text-anchor="end">24°S</text>
<text x="213.4" y="1161.2" font-size="24.4" text-anchor="end">36°S</text>
<text x="310.7" y="1210" font-size="24.4" text-anchor="middle">36°E</text>
<text x="572.8" y="1210" font-size="24.4" text-anchor="middle">54°E</text>
<text x="835.0" y="1210" font-size="24.4" text-anchor="middle">72°E</text>
<text x="1097.1" y="1210" font-size="24.4" text-anchor="middle">90°E</text>
<text x="1356.3" y="1210" font-size="24.4" text-anchor="middle">108°E</text>
<rect x="220.4" y="1265.4" width="1310.2" height="27.7" fill="url(#cb)" stroke="#222" stroke-width="1"/>
<text x="220.4" y="1325.7" font-size="24.4" text-anchor="middle" fill="#262626">-5</text>
<text x="351.4" y="1325.7" font-size="24.4" text-anchor="middle" fill="#262626">-4</text>
<text x="482.4" y="1325.7" font-size="24.4" text-anchor="middle" fill="#262626">-3</text>
<text x="613.5" y="1325.7" font-size="24.4" text-anchor="middle" fill="#262626">-2</text>
<text x="744.5" y="1325.7" font-size="24.4" text-anchor="middle" fill="#262626">-1</text>
<text x="875.5" y="1325.7" font-size="24.4" text-anchor="middle" fill="#262626">0</text>
<text x="1006.5" y="1325.7" font-size="24.4" text-anchor="middle" fill="#262626">1</text>
<text x="1137.5" y="1325.7" font-size="24.4" text-anchor="middle" fill="#262626">2</text>
<text x="1268.6" y="1325.7" font-size="24.4" text-anchor="middle" fill="#262626">3</text>
<text x="1399.6" y="1325.7" font-size="24.4" text-anchor="middle" fill="#262626">4</text>
<text x="1530.6" y="1325.7" font-size="24.4" text-anchor="middle" fill="#262626">5</text>
<path d="M351.42 1293.10 v-14 M482.44 1293.10 v-14 M613.46 1293.10 v-14 M744.48 1293.10 v-14 M875.50 1293.10 v-14 M1006.52 1293.10 v-14 M1137.54 1293.10 v-14 M1268.56 1293.10 v-14 M1399.58 1293.10 v-14" stroke="#222" stroke-width="1" fill="none"/>
<text x="876.6" y="1358" font-size="24.4" letter-spacing="1" text-anchor="middle" fill="#262626">psu/km</text>
<path d="M1467.6 1353.7 L1479.8 1365.7 M1479.8 1353.7 L1467.6 1365.7" stroke="#262626" stroke-width="1.15" fill="none"/><text x="1484.3" y="1365.8" font-size="24.4" fill="#262626">10</text><text x="1512.2" y="1353.9" font-size="19.2" fill="#262626">-3</text>
</svg></body></html>
